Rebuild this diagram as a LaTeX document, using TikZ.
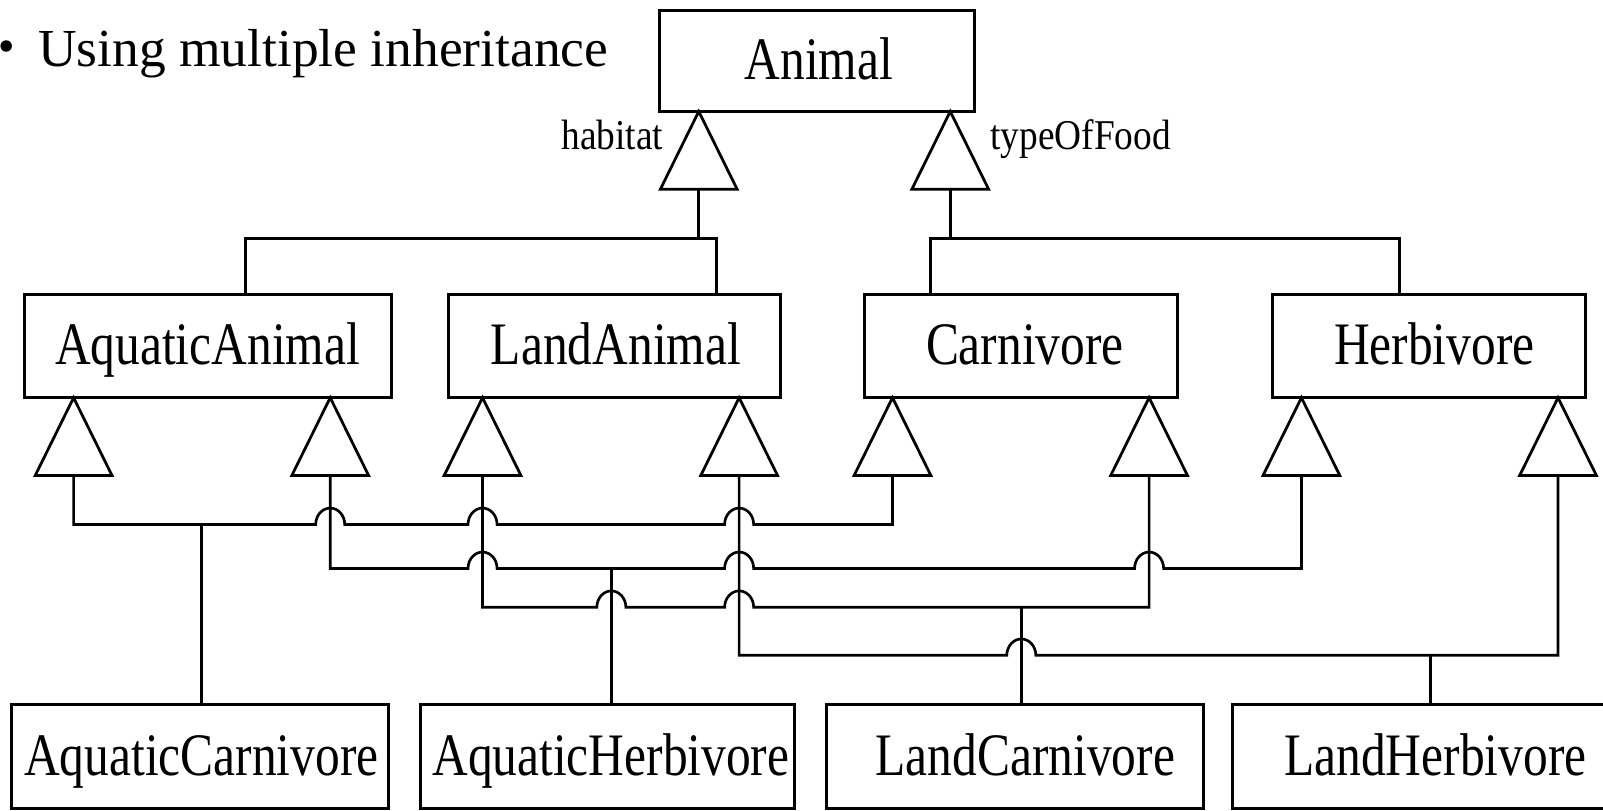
\documentclass[tikz,border=0pt]{standalone}
\usepackage{fontspec}
\setmainfont{Liberation Serif}
\newfontfamily\boxfont[FakeStretch=0.82]{Liberation Serif}
\newfontfamily\labfont[FakeStretch=0.88]{Liberation Serif}
\usetikzlibrary{calc}
\begin{document}
\begin{tikzpicture}[x=1pt,y=1pt,
  umlbox/.style={draw=black, line width=3.0pt, inner sep=0pt},
  boxtxt/.style={anchor=base, inner sep=0pt, font=\boxfont\fontsize{59}{60}\selectfont},
  labtxt/.style={inner sep=0pt, font=\labfont\fontsize{41.5}{44}\selectfont},
  conn/.style={draw=black, line width=2.6pt, line join=miter},
  tri/.style={draw=black, line width=2.7pt, line join=miter},
  gentri/.pic={\draw[tri] (0,0) -- (-37.5,-76) -- (37.5,-76) -- cycle;
               \coordinate (-base) at (0,-76);}
]
\useasboundingbox (0,0) rectangle (1568,-793);
\clip (0,0) rectangle (1568,-793);

% title
\fill (6,-45) circle (5.6pt);
\node[anchor=base west, inner sep=0pt, font=\fontsize{52.3}{56}\selectfont] (title) at (37,-65.2) {Using multiple inheritance};

% boxes
\node[umlbox, minimum width=308pt, minimum height=99pt] (AN) at (799,-59.5) {};
\node[umlbox, minimum width=359pt, minimum height=101pt] (AA) at (203.5,-338.5) {};
\node[umlbox, minimum width=324pt, minimum height=101pt] (LA) at (601,-338.5) {};
\node[umlbox, minimum width=306pt, minimum height=101pt] (CA) at (999,-338.5) {};
\node[umlbox, minimum width=306pt, minimum height=101pt] (HE) at (1398,-338.5) {};
\node[umlbox, minimum width=368.5pt, minimum height=101pt] (AC) at (195.75,-740) {};
\node[umlbox, minimum width=366pt, minimum height=101pt] (AH) at (594,-740) {};
\node[umlbox, minimum width=369pt, minimum height=101pt] (LC) at (992.5,-740) {};
\node[umlbox, minimum width=394pt, minimum height=101pt] (LH) at (1403,-740) {};

% box texts
\node[boxtxt] (ANt) at (801,-78) {Animal};
\node[boxtxt] (AAt) at (203,-356.5) {AquaticAnimal};
\node[boxtxt] (LAt) at (602.5,-356.5) {LandAnimal};
\node[boxtxt] (CAt) at (1002.5,-356.5) {Carnivore};
\node[boxtxt] (HEt) at (1403,-356.5) {Herbivore};
\node[boxtxt] (ACt) at (197,-759) {AquaticCarnivore};
\node[boxtxt] (AHt) at (597.5,-759) {AquaticHerbivore};
\node[boxtxt] (LCt) at (1003,-759) {LandCarnivore};
\node[boxtxt] (LHt) at (1404,-759) {LandHerbivore};

% discriminator labels
\node[labtxt, anchor=base east] (hab) at (649,-146.7) {habitat};
\node[labtxt, anchor=base west] (tof) at (968.5,-146.7) {typeOfFood};

% generalization triangles
\pic (tHab) at (683.5,-109) {gentri};
\pic (tTof) at (929.5,-109) {gentri};
\pic (tAA1) at (72,-389) {gentri};
\pic (tAA2) at (323,-389) {gentri};
\pic (tLA1) at (472,-389) {gentri};
\pic (tLA2) at (723,-389) {gentri};
\pic (tCA1) at (873,-389) {gentri};
\pic (tCA2) at (1124,-389) {gentri};
\pic (tHE1) at (1273,-389) {gentri};
\pic (tHE2) at (1524,-389) {gentri};

% connection points on box tops
\coordinate (AAup) at ($(AA.north)+(36.5,0)$);
\coordinate (LAup) at ($(LA.north)+(100,0)$);
\coordinate (CAup) at ($(CA.north)+(-89,0)$);
\coordinate (HEup) at ($(HE.north)+(-29,0)$);
\coordinate (ACup) at ($(AC.north)+(1.25,0)$);
\coordinate (AHup) at ($(AH.north)+(4,0)$);
\coordinate (LCup) at ($(LC.north)+(6.5,0)$);
\coordinate (LHup) at ($(LH.north)+(-4,0)$);

% top level generalizations
\draw[conn] (tHab-base) -- ++(0,-48) -| (AAup);
\draw[conn] (tHab-base) -- ++(0,-48) -| (LAup);
\draw[conn] (tTof-base) -- ++(0,-48) -| (CAup);
\draw[conn] (tTof-base) -- ++(0,-48) -| (HEup);

% AquaticCarnivore: AquaticAnimal + Carnivore
\draw[conn] (tAA1-base) |- (308.8,-513)
  arc[start angle=180,end angle=0,x radius=14.2pt,y radius=16pt] -- (457.8,-513)
  arc[start angle=180,end angle=0,x radius=14.2pt,y radius=16pt] -- (708.8,-513)
  arc[start angle=180,end angle=0,x radius=14.2pt,y radius=16pt] -| (tCA1-base);
\draw[conn] (ACup) -- ++(0,176.5);

% AquaticHerbivore: AquaticAnimal + Herbivore
\draw[conn] (tAA2-base) |- (457.8,-556)
  arc[start angle=180,end angle=0,x radius=14.2pt,y radius=16pt] -- (708.8,-556)
  arc[start angle=180,end angle=0,x radius=14.2pt,y radius=16pt] -- (1109.8,-556)
  arc[start angle=180,end angle=0,x radius=14.2pt,y radius=16pt] -| (tHE1-base);
\draw[conn] (AHup) -- ++(0,133.5);

% LandCarnivore: LandAnimal + Carnivore
\draw[conn] (tLA1-base) |- (583.8,-594)
  arc[start angle=180,end angle=0,x radius=14.2pt,y radius=16pt] -- (708.8,-594)
  arc[start angle=180,end angle=0,x radius=14.2pt,y radius=16pt] -| (tCA2-base);
\draw[conn] (LCup) -- ++(0,95.5);

% LandHerbivore: LandAnimal + Herbivore
\draw[conn] (tLA2-base) |- (984.8,-641)
  arc[start angle=180,end angle=0,x radius=14.2pt,y radius=16pt] -| (tHE2-base);
\draw[conn] (LHup) -- ++(0,48.5);
\end{tikzpicture}
\end{document}
